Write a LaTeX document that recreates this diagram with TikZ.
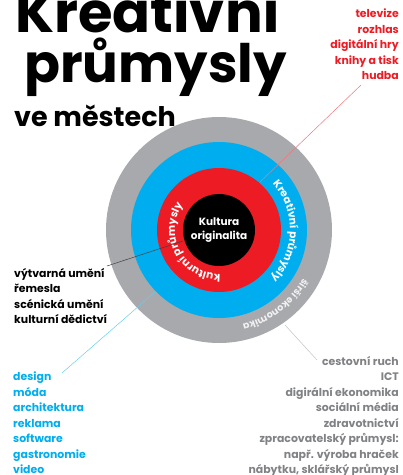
\documentclass[tikz,border=0pt]{standalone}
\usepackage{fontspec}
\setmainfont{Poppins}
\usetikzlibrary{decorations.text}
\definecolor{cred}{HTML}{ED1C24}
\definecolor{cblue}{HTML}{00AEEF}
\definecolor{cgray}{HTML}{A7A9AC}
\definecolor{cgtext}{HTML}{808285}
\tikzset{
  x=1pt,y=-1pt,
  ttl/.style={anchor=base west,inner sep=0pt,font=\bfseries\fontsize{#1}{#1}\selectfont},
  lst/.style={inner sep=0pt,align=#1,font=\bfseries\fontsize{10.9}{15.5}\selectfont},
  ring/.style={circle,inner sep=0pt,fill=#1},
  lead/.style={line width=0.5pt,draw=#1},
}
\begin{document}
\begin{tikzpicture}
\useasboundingbox (0,0) rectangle (403,475);
\fill[white] (0,0) rectangle (403,475);
\node[ttl=56,text=black] (t1) at (15,32) {Kreativní};
\node[ttl=53,text=black] (t2) at (24,82) {průmysly};
\node[ttl=27,text=black] (t3) at (14,126) {ve městech};
\node[ring=cgray,minimum size=226pt] (c4) at (219,230) {};
\node[ring=cblue,minimum size=176pt] (c3) at (219,230) {};
\node[ring=cred,minimum size=124pt] (c2) at (219,230) {};
\node[ring=black,minimum size=72pt,text=white,align=center,font=\bfseries\fontsize{10.5}{13.5}\selectfont] (c1) at (219,230) {Kultura\\originalita};
\coordinate (rin) at (260,182);
\coordinate (kin) at (183,241);
\coordinate (bin) at (155,292);
\coordinate (gin) at (285,325);
\node[lst=right,text=cred,anchor=north east] (lr) at (399,9) {televize\\rozhlas\\digitální hry\\knihy a tisk\\hudba};
\node[lst=left,text=black,anchor=north west] (lk) at (14,268) {výtvarná umění\\řemesla\\scénická umění\\kulturní dědictví};
\node[lst=left,text=cblue,anchor=north west] (lb) at (13,372) {design\\móda\\architektura\\reklama\\software\\gastronomie\\video};
\node[lst=right,text=cgtext,anchor=north east] (lg) at (399,356) {cestovní ruch\\ICT\\digirální ekonomika\\sociální média\\zdravotnictví\\zpracovatelský průmysl:\\např. výroba hraček\\nábytku, sklářský průmysl};
\coordinate (rout) at (361,85);
\coordinate (kout) at (107,266);
\coordinate (bout) at (62,373);
\coordinate (gout) at (317,360);
\draw[lead=cred!60] (rout) -- (rin);
\draw[lead=black!75] (kout) -- (kin);
\draw[lead=cblue!60] (bout) -- (bin);
\draw[lead=cgray!70] (gout) -- (gin);
\path[postaction={decorate,decoration={text along path,text align=center,
  text={|\bfseries\fontsize{10.5}{10.5}\selectfont\color{white}|Kreativní průmysly}}}]
  (219,230) ++(-50:71) arc[start angle=-50,end angle=52,radius=71];
\path[postaction={decorate,decoration={text along path,text align=center,
  text={|\bfseries\fontsize{10.5}{10.5}\selectfont\color{white}|kulturní průmysly}}}]
  (219,230) ++(70:44) arc[start angle=70,end angle=233,radius=44];
\path[postaction={decorate,decoration={text along path,text align=center,
  text={|\bfseries\fontsize{9.5}{9.5}\selectfont\color{white!85!cgray}|širší ekonomika}}}]
  (219,230) ++(20:97) arc[start angle=20,end angle=86,radius=97];
\end{tikzpicture}
\end{document}
